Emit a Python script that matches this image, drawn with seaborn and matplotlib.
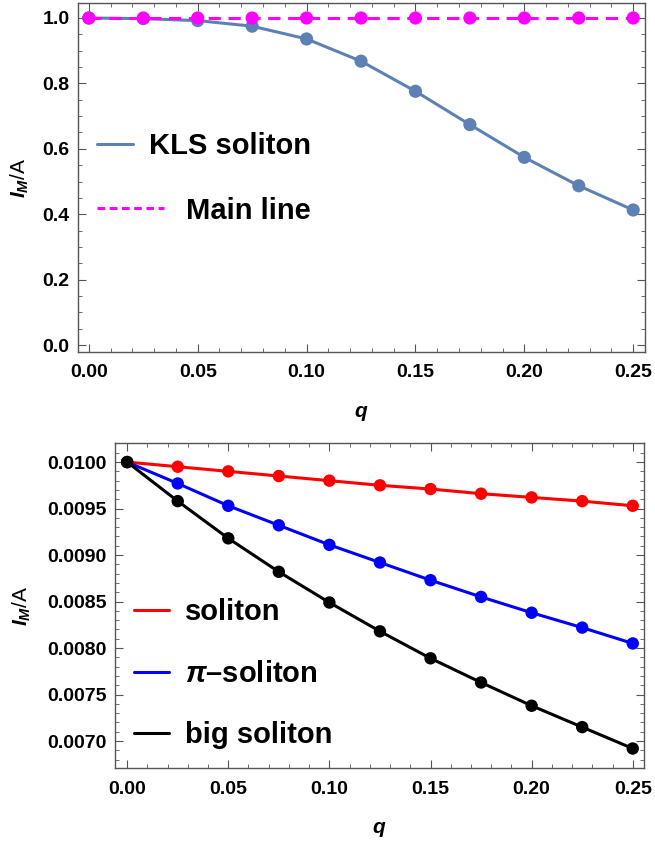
import numpy as np
import pandas as pd
import matplotlib
matplotlib.use("Agg")
import matplotlib.pyplot as plt
from matplotlib.lines import Line2D
from matplotlib.ticker import MultipleLocator
import seaborn as sns

q = [0.0, 0.025, 0.05, 0.075, 0.10, 0.125, 0.15, 0.175, 0.20, 0.225, 0.25]

kls = [1.0, 0.998, 0.992, 0.975, 0.936, 0.868, 0.776, 0.674, 0.574, 0.487, 0.413]
main_line = [1.0] * 11

soliton = [0.0100, 0.00995, 0.00990, 0.00985, 0.00980, 0.00975, 0.00971, 0.00966, 0.00962, 0.00958, 0.00953]
pi_soliton = [0.0100, 0.00977, 0.00953, 0.00932, 0.00911, 0.00892, 0.00873, 0.00855, 0.00838, 0.00822, 0.00805]
big_soliton = [0.0100, 0.00958, 0.00918, 0.00882, 0.00849, 0.00818, 0.00789, 0.00763, 0.00738, 0.00715, 0.00692]

df_top = pd.DataFrame({'q': q, 'KLS soliton': kls, 'Main line': main_line})
df_bot = pd.DataFrame({'q': q, 'soliton': soliton, 'pi': pi_soliton, 'big': big_soliton})

sns.set_style("ticks")
plt.rcParams['font.family'] = ['Liberation Sans', 'DejaVu Sans']
plt.rcParams['font.weight'] = 'bold'
plt.rcParams['text.color'] = 'black'
plt.rcParams['axes.labelcolor'] = 'black'
plt.rcParams['mathtext.fontset'] = 'custom'
plt.rcParams['mathtext.rm'] = 'Liberation Sans:bold'
plt.rcParams['mathtext.it'] = 'Liberation Sans:italic:bold'
plt.rcParams['mathtext.bf'] = 'Liberation Sans:bold'

fig = plt.figure(figsize=(6.55, 8.44), dpi=100)
ax1 = fig.add_axes([0.119, 0.583, 0.866, 0.4135])
ax2 = fig.add_axes([0.1756, 0.09, 0.8074, 0.385])

blue_c = '#5E81B5'
mag = '#FF00FF'

# top panel
sns.lineplot(data=df_top, x='q', y='KLS soliton', ax=ax1, color=blue_c, lw=2.2)
sns.scatterplot(data=df_top, x='q', y='KLS soliton', ax=ax1, color=blue_c, s=90, edgecolor='none', zorder=3)
sns.lineplot(data=df_top, x='q', y='Main line', ax=ax1, color=mag, lw=2.2, zorder=4)
ax1.lines[-1].set_dashes([4, 2.5])
sns.scatterplot(data=df_top, x='q', y='Main line', ax=ax1, color=mag, s=90, edgecolor='none', zorder=5)

ax1.set_xlim(-0.005, 0.2555)
ax1.set_ylim(-0.021, 1.046)
ax1.xaxis.set_minor_locator(MultipleLocator(0.01))
ax1.yaxis.set_minor_locator(MultipleLocator(0.05))
ax1.set_xticks(np.arange(0, 0.26, 0.05))
ax1.set_xticklabels(['0.00', '0.05', '0.10', '0.15', '0.20', '0.25'])
ax1.set_yticks(np.arange(0, 1.01, 0.2))
ax1.set_yticklabels(['0.0', '0.2', '0.4', '0.6', '0.8', '1.0'])
ax1.set_xlabel('$q$', fontsize=15, labelpad=16)
ax1.set_ylabel('$I_M$/A', fontsize=15, labelpad=8)

leg_a = ax1.legend([Line2D([], [], color=blue_c, lw=2.2)], ['KLS soliton'],
                   loc='center left', bbox_to_anchor=(0.0, 0.59), frameon=False,
                   fontsize=21, handlelength=1.25, handletextpad=0.55, borderaxespad=0.25)
ax1.add_artist(leg_a)
ax1.legend([Line2D([], [], color=mag, lw=2.2, dashes=[2.5, 1.5])], ['Main line'],
           loc='center left', bbox_to_anchor=(0.0, 0.405), frameon=False,
           fontsize=21, handlelength=2.3, handletextpad=0.75, borderaxespad=0.25)

# bottom panel
for col, c in [('soliton', 'red'), ('pi', 'blue'), ('big', 'black')]:
    sns.lineplot(data=df_bot, x='q', y=col, ax=ax2, color=c, lw=2.2)
    sns.scatterplot(data=df_bot, x='q', y=col, ax=ax2, color=c, s=80, edgecolor='none', zorder=3)

ax2.set_xlim(-0.006, 0.2555)
ax2.set_ylim(0.00671, 0.010204)
ax2.xaxis.set_minor_locator(MultipleLocator(0.01))
ax2.yaxis.set_minor_locator(MultipleLocator(0.0001))
ax2.set_xticks(np.arange(0, 0.26, 0.05))
ax2.set_xticklabels(['0.00', '0.05', '0.10', '0.15', '0.20', '0.25'])
yt = [0.0070, 0.0075, 0.0080, 0.0085, 0.0090, 0.0095, 0.0100]
ax2.set_yticks(yt)
ax2.set_yticklabels([f'{v:.4f}' for v in yt])
ax2.set_xlabel('$q$', fontsize=15, labelpad=16)
ax2.set_ylabel('$I_M$/A', fontsize=15, labelpad=10)
h2 = [Line2D([], [], color='red', lw=2.2),
      Line2D([], [], color='blue', lw=2.2),
      Line2D([], [], color='black', lw=2.2)]
ax2.legend(h2, ['soliton', r'$\pi$–soliton', 'big soliton'], loc='center left',
           bbox_to_anchor=(0.0, 0.29), frameon=False, fontsize=21, labelspacing=1.15,
           handlelength=1.2, handletextpad=0.55, borderaxespad=0.25)

for ax in (ax1, ax2):
    for s in ax.spines.values():
        s.set_color('#555555')
        s.set_linewidth(1.0)
    ax.tick_params(which='both', direction='in', top=True, right=True, colors='#555555',
                   labelcolor='black', labelsize=14, pad=9)
    ax.tick_params(which='major', length=6)
    ax.tick_params(which='minor', length=3)
    ax.tick_params(axis='y', pad=6)
    for lab in ax.get_xticklabels() + ax.get_yticklabels():
        lab.set_fontweight('bold')

fig.savefig('out.png', dpi=100)
